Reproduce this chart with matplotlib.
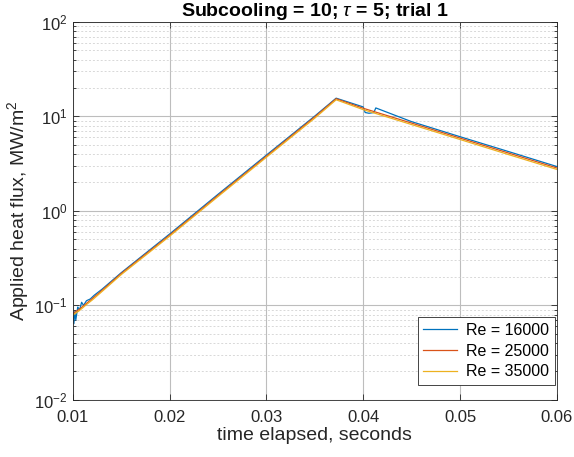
import matplotlib
matplotlib.use("Agg")
import matplotlib.pyplot as plt
import numpy as np
from matplotlib.ticker import LogLocator, FixedLocator

plt.rcParams['font.family'] = ['Liberation Sans', 'DejaVu Sans']
plt.rcParams['mathtext.fontset'] = 'custom'
plt.rcParams['mathtext.it'] = 'Liberation Sans:italic'
plt.rcParams['mathtext.rm'] = 'Liberation Sans'

# time (s) and applied heat flux (MW/m^2)
t_16000 = [0.0100, 0.0101, 0.0102, 0.0103, 0.0105, 0.0107, 0.0109, 0.0111, 0.0114,
           0.0118, 0.0122, 0.0130, 0.0150, 0.0200, 0.0250, 0.0300, 0.0350, 0.0372,
           0.0400, 0.0402, 0.0406, 0.0411, 0.0413, 0.0450, 0.0500, 0.0550, 0.0600]
q_16000 = [0.080, 0.064, 0.086, 0.070, 0.096, 0.090, 0.108, 0.100, 0.112,
           0.117, 0.128, 0.148, 0.222, 0.570, 1.50, 3.90, 10.1, 15.6,
           12.6, 11.0, 10.8, 11.0, 12.3, 8.8, 6.1, 4.25, 2.95]

t_25000 = [0.0100, 0.0103, 0.0106, 0.0110, 0.0115, 0.0120, 0.0130, 0.0150, 0.0200,
           0.0250, 0.0300, 0.0350, 0.0372, 0.0400, 0.0450, 0.0500, 0.0550, 0.0600]
q_25000 = [0.082, 0.086, 0.090, 0.097, 0.107, 0.118, 0.144, 0.218, 0.555,
           1.46, 3.80, 9.9, 15.4, 12.2, 8.5, 5.9, 4.10, 2.85]

t_35000 = [0.0100, 0.0103, 0.0106, 0.0110, 0.0115, 0.0120, 0.0130, 0.0150, 0.0200,
           0.0250, 0.0300, 0.0350, 0.0372, 0.0400, 0.0450, 0.0500, 0.0550, 0.0600]
q_35000 = [0.079, 0.083, 0.087, 0.094, 0.104, 0.114, 0.140, 0.212, 0.540,
           1.42, 3.70, 9.6, 15.0, 11.8, 8.2, 5.7, 3.95, 2.75]

labels = ['Re = 16000', 'Re = 25000', 'Re = 35000']
colors = ['#0072BD', '#D95319', '#EDB120']
x_ticks = [0.01, 0.02, 0.03, 0.04, 0.05, 0.06]


def main():
    fig = plt.figure(figsize=(5.74, 4.57), dpi=100)
    ax = fig.add_axes([0.127, 0.125, 0.843, 0.827])

    for t, q, lab, c in zip([t_16000, t_25000, t_35000], [q_16000, q_25000, q_35000], labels, colors):
        ax.plot(t, q, color=c, lw=0.9, label=lab)

    ax.set_yscale('log')
    ax.set_xlim(0.01, 0.06)
    ax.set_ylim(1e-2, 1e2)
    ax.xaxis.set_major_locator(FixedLocator(x_ticks))
    ax.set_xticklabels(['%.2f' % v for v in x_ticks])
    ax.yaxis.set_major_locator(LogLocator(base=10, numticks=10))
    ax.yaxis.set_minor_locator(LogLocator(base=10, subs=np.arange(2, 10), numticks=10))

    ax.grid(True, which='major', color='#bdbdbd', lw=0.8, ls='-')
    ax.grid(True, which='minor', axis='y', color='#d8d8d8', lw=0.7, ls=(0, (2, 2)))
    ax.set_axisbelow(True)

    ax.tick_params(which='both', direction='in', top=True, right=True, labelsize=12, colors='#262626')
    ax.tick_params(which='major', length=4, width=0.6)
    ax.tick_params(which='minor', length=2.5, width=0.6)
    ax.tick_params(axis='x', pad=7)
    ax.tick_params(axis='y', pad=4)
    for s in ax.spines.values():
        s.set_color('#262626')
        s.set_linewidth(0.6)

    ax.set_xlabel('time elapsed, seconds', fontsize=14, color='#262626', labelpad=2)
    ax.set_ylabel('Applied heat flux, MW/m$^2$', fontsize=14, color='#262626', labelpad=2)
    ax.set_title(r'Subcooling = 10; $\tau$ = 5; trial 1', fontsize=14, fontweight='bold', pad=4)

    leg = ax.legend(loc='lower right', bbox_to_anchor=(0.996, 0.04), fontsize=11.5,
                    fancybox=False, framealpha=1, edgecolor='#262626', borderaxespad=0,
                    handlelength=2.1, handletextpad=0.6, labelspacing=0.35, borderpad=0.35)
    leg.get_frame().set_linewidth(0.6)

    fig.savefig('out.png', dpi=100)


if __name__ == "__main__":
    main()
